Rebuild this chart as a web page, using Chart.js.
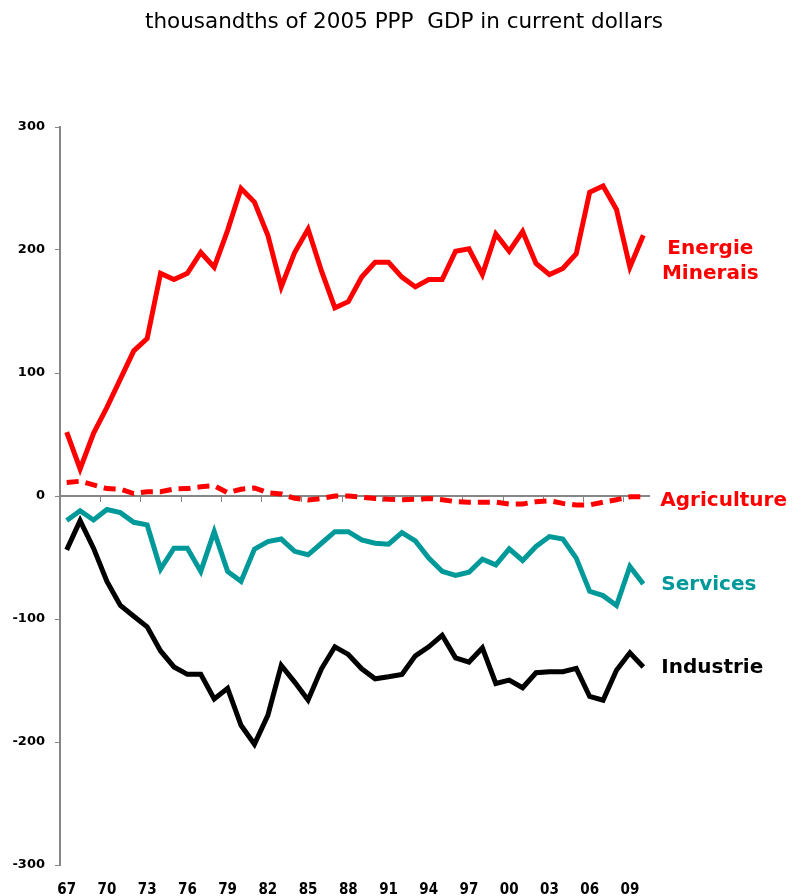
<!DOCTYPE html>
<html>
<head>
<meta charset="utf-8">
<script src="https://cdn.jsdelivr.net/npm/chart.js@4"></script>
<style>
  html, body { margin: 0; padding: 0; background: #fff; }
  #wrap { width: 796px; height: 896px; position: relative; }
</style>
</head>
<body>
<div id="wrap"><canvas id="chart"></canvas></div>
<script>
const years = ["67","68","69","70","71","72","73","74","75","76","77","78","79","80","81","82","83","84","85","86","87","88","89",
  "90","91","92","93","94","95","96","97","98","99","00","01","02","03","04","05","06","07","08","09","10"];

const energie = [52, 22, 51, 72, 95, 118, 128, 181, 176, 181, 198, 186, 216, 250, 239, 212, 170, 198, 217, 183, 153, 158, 178,
  190, 190, 178, 170, 176, 176, 199, 201, 180, 213, 199, 215, 189, 180, 185, 197, 247, 252, 233, 186, 212];

const agriculture = [11, 12, 9, 6, 5.5, 2, 3.5, 3.5, 5.7, 6, 7.5, 8.4, 2.7, 5.5, 6.5, 2.7, 1.6, -1.9, -3.2, -2, 0, 0, -1,
  -2, -2.7, -3, -2.7, -2, -3, -4.6, -5, -5, -5, -6.5, -6.5, -4.6, -3.8, -6, -7.3, -7.3, -5, -3, -0.7, -0.7];

const services = [-20, -12, -19.5, -11, -13.5, -21.4, -23.5, -59.4, -42.4, -42.4, -61.3, -29, -61.3, -69.4, -43.2, -37, -35, -45, -47.8, -38.4, -29, -29, -35.7,
  -38.4, -39.2, -29.7, -36.5, -50.5, -61.3, -64.6, -62, -51.3, -56, -43, -52.4, -41, -33, -35, -50.5, -77.5, -81, -89, -57.3, -71.6];

const industrie = [-43.8, -20, -42.4, -69.4, -89, -97.8, -106.4, -126, -139, -145, -145, -165, -156.4, -186.4, -201.8, -178.3, -137.8, -151.3, -165.9, -140.5, -122.6, -128.8, -140.5,
  -148.6, -147, -145, -130, -122.6, -113.2, -131.6, -135, -123.5, -152.4, -149.7, -155.9, -143.7, -142.9, -142.9, -140.2, -163, -166, -141.6, -127.5, -139];

const yTicks = [300, 200, 100, 0, -100, -200, -300];

const TITLE = "thousandths of 2005 PPP  GDP in current dollars";
const RED = "#ff0000", TEAL = "#009999", AXIS = "#868686";
const FONT = "'DejaVu Sans', Verdana, sans-serif";

// title, zero line with small ticks every 3 categories, series labels on the right
const decorations = {
  id: "decorations",
  beforeDatasetsDraw(chart) {
    const { ctx, chartArea, scales: { x, y } } = chart;
    const y0 = y.getPixelForValue(0);
    ctx.save();
    ctx.fillStyle = "#000";
    ctx.font = "21.5px " + FONT;
    ctx.textAlign = "center";
    ctx.textBaseline = "middle";
    ctx.fillText(TITLE, 404, 22);

    ctx.strokeStyle = AXIS;
    ctx.lineWidth = 2;
    ctx.beginPath();
    ctx.moveTo(chartArea.left, y0);
    ctx.lineTo(chartArea.right, y0);
    ctx.stroke();
    ctx.lineWidth = 1;
    for (let i = 3; i < years.length; i += 3) {
      const px = Math.round((x.getPixelForTick(i - 1) + x.getPixelForTick(i)) / 2) + 0.5;
      ctx.beginPath();
      ctx.moveTo(px, y0);
      ctx.lineTo(px, y0 + 6);
      ctx.stroke();
    }
    ctx.restore();
  },
  afterDatasetsDraw(chart) {
    const { ctx, scales: { x, y } } = chart;
    const last = years.length - 1;
    const lx = x.getPixelForTick(last) + 17;
    ctx.save();
    ctx.font = "bold 20px " + FONT;
    ctx.textBaseline = "middle";
    ctx.fillStyle = RED;
    ctx.textAlign = "center";
    const ey = y.getPixelForValue(energie[last]);
    ctx.fillText("Energie", lx + 50, ey + 14);
    ctx.fillText("Minerais", lx + 50, ey + 39);
    ctx.textAlign = "left";
    ctx.fillText("Agriculture", lx, y.getPixelForValue(agriculture[last]) + 4);
    ctx.fillStyle = TEAL;
    ctx.fillText("Services", lx + 1, y.getPixelForValue(services[last]) + 1);
    ctx.fillStyle = "#000";
    ctx.fillText("Industrie", lx + 1, y.getPixelForValue(industrie[last]) + 1);
    ctx.restore();
  }
};

new Chart(document.getElementById("chart"), {
  type: "line",
  data: {
    labels: years,
    datasets: [
      { label: "Energie Minerais", data: energie, borderColor: RED, borderWidth: 5 },
      { label: "Agriculture", data: agriculture, borderColor: RED, borderWidth: 5, borderDash: [12, 7] },
      { label: "Services", data: services, borderColor: TEAL, borderWidth: 5 },
      { label: "Industrie", data: industrie, borderColor: "#000", borderWidth: 5 },
    ],
  },
  options: {
    responsive: true, maintainAspectRatio: false, animation: false,
    layout: { padding: { left: 0, right: 146, top: 127, bottom: 0 } },
    elements: { point: { radius: 0 }, line: { tension: 0, borderJoinStyle: "miter", borderCapStyle: "butt" } },
    plugins: {
      legend: { display: false },
      tooltip: { enabled: false },
      title: { display: false },
    },
    scales: {
      x: {
        offset: true,
        grid: { display: false },
        border: { display: false },
        afterFit: (s) => { s.height = 31; },
        ticks: {
          autoSkip: false, maxRotation: 0, padding: 8, color: "#000",
          font: { family: "'DejaVu Sans Condensed', 'DejaVu Sans', sans-serif", size: 15, weight: "bold" },
          callback: (v, i) => (i % 3 === 0 && i < years.length - 1 ? years[i] : ""),
        },
      },
      y: {
        min: -300, max: 300,
        afterFit: (s) => { s.width = 60; },
        afterBuildTicks: (s) => { s.ticks = yTicks.map((v) => ({ value: v })); },
        grid: { drawOnChartArea: false, drawTicks: true, tickLength: 5, color: AXIS },
        border: { display: true, color: AXIS, width: 2 },
        ticks: { padding: 10, color: "#000", font: { family: FONT, size: 13, weight: "bold" } },
      },
    },
  },
  plugins: [decorations],
});
</script>
</body>
</html>
